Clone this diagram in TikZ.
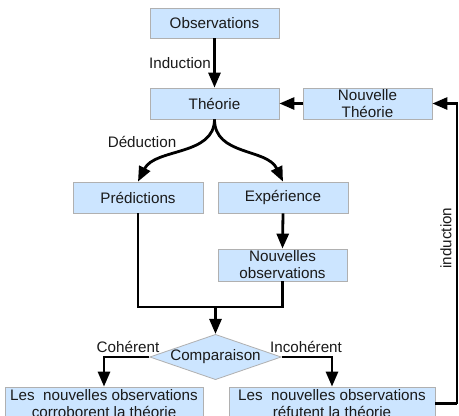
\documentclass[tikz,border=0pt]{standalone}
\usepackage{fontspec}
\setmainfont{Liberation Sans}
\usetikzlibrary{shapes.geometric,arrows.meta}
\definecolor{boxfill}{HTML}{CCE5FF}
\definecolor{boxline}{HTML}{B0B0B0}
\definecolor{txt}{HTML}{1A1A1A}
\tikzset{
  box/.style={draw=boxline, fill=boxfill, line width=0.8pt, inner sep=0pt, align=center, text=txt,
    font=\fontsize{15.2}{17}\selectfont},
  lbl/.style={inner sep=0pt, text=txt, font=\fontsize{15.2}{17}\selectfont},
  conn/.style={line width=2.8pt, black},
  arr/.style={conn, -{Triangle[length=15pt,width=12pt]}},
}
\begin{document}
\begin{tikzpicture}[x=1pt,y=-1pt]
\clip (0,0) rectangle (459,416);
\useasboundingbox (0,0) rectangle (459,416);
\fill[white] (0,0) rectangle (459,416);

\node[box, minimum width=129pt, minimum height=30pt] (obs) at (214.5,23) {Observations};
\node[box, minimum width=129pt, minimum height=31pt] (the) at (214.5,103.5) {Théorie};
\node[box, minimum width=129pt, minimum height=31pt] (nth) at (367.5,103.5) {Nouvelle\\Théorie};
\node[box, minimum width=130pt, minimum height=31pt] (pre) at (138,197.5) {Prédictions};
\node[box, minimum width=130pt, minimum height=31pt] (exp) at (283,197.5) {Expérience};
\node[box, minimum width=129pt, minimum height=32pt] (nob) at (282.5,265) {Nouvelles\\observations};
\node[box, shape=diamond, shape aspect=2.9, minimum width=127pt, minimum height=44pt] (cmp) at (215.5,357) {Comparaison};
\node[box, minimum width=198pt, minimum height=33pt] (lb) at (104,403.5) {Les~ nouvelles observations\\corroborent la théorie};
\node[box, minimum width=206pt, minimum height=33pt] (rb) at (332,403.5) {Les~ nouvelles observations\\réfutent la théorie};

\node[lbl, anchor=east] (ind) at (211,63) {Induction};
\node[lbl] (ded) at (142,142) {Déduction};
\node[lbl] (coh) at (128,347) {Cohérent};
\node[lbl] (inc) at (306,347) {Incohérent};
\node[lbl, rotate=90] (ind2) at (446,238) {induction};

\coordinate (j) at (215.5,307);
\coordinate (rr) at (457,403.5);

\draw[arr] (the.south) .. controls (214.5,156) and (155,148) .. (pre.north);
\draw[arr] (the.south) .. controls (214.5,156) and (267,148) .. (exp.north);
\draw[arr] (obs.south) -- (the.north);
\draw[arr] (nth.west) -- (the.east);
\draw[arr] (exp.south) -- (nob.north);
\draw[conn] (pre.south) |- (j);
\draw[conn] (nob.south) |- (j);
\draw[arr] (j) -- (cmp.north);
\draw[arr] (cmp.west) -| (lb.north);
\draw[arr] (cmp.east) -| (rb.north);
\draw[conn] (rb.east) -- (rr);
\draw[arr] (rr) |- (nth.east);
\end{tikzpicture}
\end{document}
